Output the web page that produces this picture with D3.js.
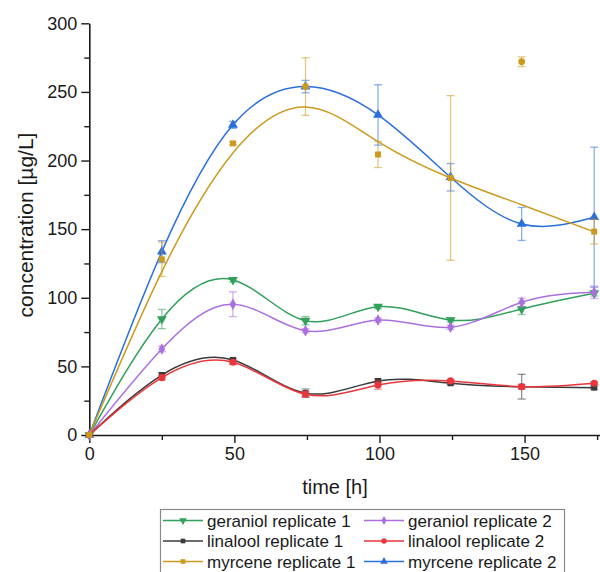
<!DOCTYPE html>
<html>
<head>
<meta charset="utf-8">
<script src="https://cdn.jsdelivr.net/npm/d3@7.9.0/dist/d3.min.js"></script>
<style>
  html, body { margin: 0; padding: 0; background: #fff; }
  svg { display: block; font-family: "Liberation Sans", Arial, sans-serif; }
</style>
</head>
<body>
<svg id="chart" width="600" height="572"></svg>
<script>
// sampling times [h]
const times = [0, 25, 49.5, 74.5, 99.5, 124.5, 149, 174];

// concentrations [µg/L] and their error bars
const geraniolR1 = [0, 84.5, 113, 83.3, 93.5, 83.8, 91.8, 103.3];
const geraniolR1Err = [0, 7, 1.5, 3, 1.5, 1.5, 4, 2];
const geraniolR2 = [0, 62.7, 95.3, 76, 83.8, 78.5, 96.7, 104];
const geraniolR2Err = [0, 2, 9, 1.5, 1.5, 1.5, 3, 4.5];
const linaloolR1 = [0, 43.7, 54.7, 30.5, 39.4, 37.7, 35.2, 34.5];
const linaloolR1Err = [0, 1.5, 1, 3, 1.5, 1, 9, 1];
const linaloolR2 = [0, 41.8, 53, 29.7, 36.4, 39.4, 35.2, 37.7];
const linaloolR2Err = [0, 1.5, 1.5, 2, 3, 1, 1.5, 1];
const myrceneR1 = [0, 128, 212.5, 253.9, 204.4, 187.3, 272, 148.2];
const myrceneR1Err = [0, 12.5, 1, 21, 9.5, 60, 3.5, 9];
// fitted curve for myrcene replicate 1 (does not pass through every point)
const myrceneR1Fit = [0, 119, 205.5, 239, 213.8, 187.3, 167.8, 148];
const myrceneR1Masked = [false, false, false, true, false, false, true, false];
const myrceneR2 = [0, 133.6, 226, 253.9, 233.2, 187.8, 153.8, 158.7];
const myrceneR2Err = [0, 8, 2.5, 4.5, 22, 10, 12, 51];

const xTicks = [0, 50, 100, 150];
const yTicks = [0, 50, 100, 150, 200, 250, 300];

const series = [
  { name: 'myrcene replicate 2', values: myrceneR2, err: myrceneR2Err, curve: myrceneR2, color: '#2a6fdc', symbol: d3.symbolTriangle, rot: 0, size: 42 },
  { name: 'geraniol replicate 1', values: geraniolR1, err: geraniolR1Err, curve: geraniolR1, color: '#31a05a', symbol: d3.symbolTriangle, rot: 180, size: 42 },
  { name: 'geraniol replicate 2', values: geraniolR2, err: geraniolR2Err, curve: geraniolR2, color: '#ab70e0', symbol: d3.symbolDiamond, rot: 0, size: 38 },
  { name: 'linalool replicate 1', values: linaloolR1, err: linaloolR1Err, curve: linaloolR1, color: '#3a3a3a', symbol: d3.symbolSquare, rot: 0, size: 36 },
  { name: 'linalool replicate 2', values: linaloolR2, err: linaloolR2Err, curve: linaloolR2, color: '#e8373c', symbol: d3.symbolCircle, rot: 0, size: 40 },
  { name: 'myrcene replicate 1', values: myrceneR1, err: myrceneR1Err, curve: myrceneR1Fit, color: '#cc9a1f', symbol: d3.symbolSquare, rot: 0, size: 36, masked: myrceneR1Masked }
];

const svg = d3.select('#chart');

const x = d3.scaleLinear().domain([0, 176]).range([89.3, 600]);
const y = d3.scaleLinear().domain([0, 300]).range([435, 23.3]);

// axes
svg.append('g')
  .attr('transform', `translate(${x(0)},0)`)
  .call(d3.axisLeft(y).tickValues(yTicks).tickSize(8).tickPadding(4).tickSizeOuter(0));
svg.append('g')
  .attr('transform', `translate(${x(0)},0)`)
  .call(d3.axisLeft(y).tickValues(d3.range(25, 300, 50)).tickSize(5).tickFormat('').tickSizeOuter(0))
  .select('.domain').remove();

svg.append('g')
  .attr('transform', `translate(0,${y(0)})`)
  .call(d3.axisBottom(x).tickValues(xTicks).tickSize(8).tickPadding(4).tickSizeOuter(0));
svg.append('g')
  .attr('transform', `translate(0,${y(0)})`)
  .call(d3.axisBottom(x).tickValues([25, 75, 125, 175]).tickSize(5).tickFormat('').tickSizeOuter(0))
  .select('.domain').remove();

svg.selectAll('.domain').attr('stroke', '#1a1a1a').attr('stroke-width', 1.6);
svg.selectAll('.tick line').attr('stroke', '#1a1a1a').attr('stroke-width', 1.4);
svg.selectAll('.tick text').attr('font-size', 18).attr('fill', '#1a1a1a')
  .attr('font-family', '"Liberation Sans", Arial, sans-serif');

// axis titles
svg.append('text')
  .attr('transform', 'translate(33,225) rotate(-90)')
  .attr('text-anchor', 'middle')
  .attr('font-size', 21)
  .attr('fill', '#1a1a1a')
  .text('concentration [µg/L]');

svg.append('text')
  .attr('x', 335).attr('y', 494)
  .attr('text-anchor', 'middle')
  .attr('font-size', 20)
  .attr('fill', '#1a1a1a')
  .text('time [h]');

const line = d3.line()
  .x(d => x(d[0]))
  .y(d => y(d[1]))
  .curve(d3.curveNatural);

const plot = svg.append('g');

series.forEach(s => {
  const g = plot.append('g');
  const pts = times.map((t, i) => ({ t, v: s.values[i], e: s.err[i], m: s.masked ? s.masked[i] : false }));

  // error bars
  const eb = g.selectAll('.eb').data(pts.filter(p => p.e > 0)).join('g')
    .attr('stroke', s.color).attr('stroke-opacity', 0.55).attr('stroke-width', 1.3);
  eb.append('line')
    .attr('x1', p => x(p.t)).attr('x2', p => x(p.t))
    .attr('y1', p => y(p.v - p.e)).attr('y2', p => y(p.v + p.e));
  eb.append('line')
    .attr('x1', p => x(p.t) - 4).attr('x2', p => x(p.t) + 4)
    .attr('y1', p => y(p.v + p.e)).attr('y2', p => y(p.v + p.e));
  eb.append('line')
    .attr('x1', p => x(p.t) - 4).attr('x2', p => x(p.t) + 4)
    .attr('y1', p => y(p.v - p.e)).attr('y2', p => y(p.v - p.e));

  // spline
  g.append('path')
    .datum(times.map((t, i) => [t, s.curve[i]]))
    .attr('d', line)
    .attr('fill', 'none')
    .attr('stroke', s.color)
    .attr('stroke-width', 1.5);

  // markers
  g.selectAll('.pt').data(pts).join('path')
    .attr('transform', p => `translate(${x(p.t)},${y(p.v)}) rotate(${s.rot})`)
    .attr('d', p => d3.symbol().type(p.m ? d3.symbolCircle : s.symbol).size(s.size)())
    .attr('fill', s.color);
});

// legend
const legendOrder = [
  ['geraniol replicate 1', 'geraniol replicate 2'],
  ['linalool replicate 1', 'linalool replicate 2'],
  ['myrcene replicate 1', 'myrcene replicate 2']
];
const legend = svg.append('g');
legend.append('rect')
  .attr('x', 160.5).attr('y', 509.5)
  .attr('width', 404).attr('height', 80)
  .attr('fill', '#fff')
  .attr('stroke', '#8a8a8a')
  .attr('stroke-width', 1.2);

const colX = [163, 364];
const rowY = [520.5, 541, 561.5];
legendOrder.forEach((row, r) => {
  row.forEach((name, c) => {
    const s = series.find(d => d.name === name);
    const gx = colX[c], gy = rowY[r];
    const item = legend.append('g').attr('transform', `translate(${gx},${gy})`);
    item.append('line')
      .attr('x1', 0).attr('x2', 40).attr('y1', 0).attr('y2', 0)
      .attr('stroke', s.color).attr('stroke-width', 1.5);
    item.append('path')
      .attr('transform', `translate(20,0) rotate(${s.rot})`)
      .attr('d', d3.symbol().type(s.symbol).size(s.size * 0.6)())
      .attr('fill', s.color);
    item.append('text')
      .attr('x', 44).attr('y', 6)
      .attr('font-size', 17)
      .attr('fill', '#1a1a1a')
      .text(name);
  });
});
</script>
</body>
</html>
